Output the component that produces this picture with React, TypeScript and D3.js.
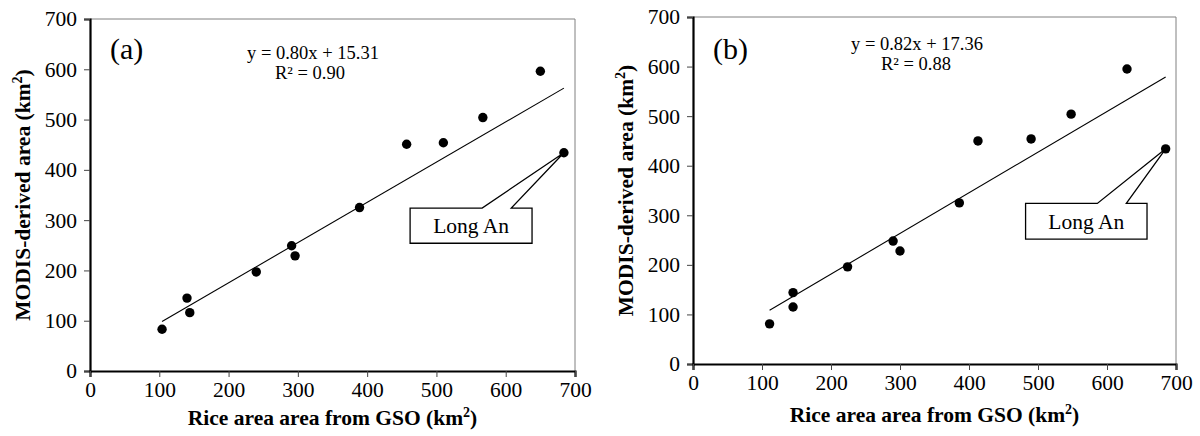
import { useEffect, useRef } from 'react'
import * as d3 from 'd3'

// (a) GSO vs MODIS, km2
const gsoA = [104, 140, 144, 240, 291, 296, 389, 457, 510, 567, 650, 684]
const modisA = [83, 145, 116, 197, 249, 229, 325, 451, 454, 504, 596, 434]
// (b)
const gsoB = [111, 145, 145, 224, 290, 300, 386, 413, 490, 548, 629, 685]
const modisB = [81, 144, 115, 196, 248, 228, 325, 450, 454, 504, 595, 434]

const axisTicks = [0, 100, 200, 300, 400, 500, 600, 700]

const fitA = { slope: 0.8, intercept: 15.31, r2: '0.90' }
const fitB = { slope: 0.82, intercept: 17.36, r2: '0.88' }

const calloutLabel = 'Long An'

interface Panel {
  tag: string
  xs: number[]
  ys: number[]
  fit: { slope: number; intercept: number; r2: string }
  box: { left: number; right: number; top: number; bottom: number }
  // callout box in data units
  callout: { x0: number; x1: number; y0: number; y1: number }
  eq: { x: number; rx: number; y: number }
  tagY: number
  yTitleX: number
  xTitleGap: number
}

const panels: Panel[] = [
  {
    tag: '(a)', xs: gsoA, ys: modisA, fit: fitA,
    box: { left: 90, right: 575, top: 19, bottom: 371 },
    callout: { x0: 462, x1: 638, y0: 254, y1: 324 },
    eq: { x: 313, rx: 310, y: 59 }, tagY: 59, yTitleX: 22, xTitleGap: 54,
  },
  {
    tag: '(b)', xs: gsoB, ys: modisB, fit: fitB,
    box: { left: 693, right: 1176, top: 17, bottom: 364 },
    callout: { x0: 482, x1: 658, y0: 252, y1: 324 },
    eq: { x: 917, rx: 916, y: 50 }, tagY: 59, yTitleX: 625, xTitleGap: 58,
  },
]

const FONT = '"Liberation Serif", "Times New Roman", serif'
const FS = 21.5

export default function App() {
  const svgRef = useRef<SVGSVGElement>(null)

  useEffect(() => {
    if (!svgRef.current) return
    const svg = d3.select(svgRef.current)
    svg.selectAll('*').remove()

    panels.forEach(p => {
      const { left, right, top, bottom } = p.box
      const x = d3.scaleLinear().domain([0, 700]).range([left, right])
      const y = d3.scaleLinear().domain([0, 700]).range([bottom, top])
      const g = svg.append('g').attr('font-family', FONT)

      // plot area frame (thin grey top/right)
      g.append('path')
        .attr('d', `M${left},${top}H${right}V${bottom}`)
        .attr('fill', 'none').attr('stroke', '#808080').attr('stroke-width', 1)

      // y axis
      const ya = g.append('g').attr('transform', `translate(${left},0)`)
        .call(d3.axisLeft(y).tickValues(axisTicks).tickSize(6).tickPadding(7).tickFormat(d3.format('d')))
      ya.select('.domain').attr('stroke', '#000').attr('stroke-width', 2.2)
      ya.selectAll('line').attr('stroke', '#444').attr('stroke-width', 1)
      ya.selectAll('text').attr('font-size', `${FS}px`).attr('fill', '#000').attr('font-family', FONT)

      // x axis
      const xa = g.append('g').attr('transform', `translate(0,${bottom})`)
        .call(d3.axisBottom(x).tickValues(axisTicks).tickSize(6).tickPadding(5).tickFormat(d3.format('d')))
      xa.select('.domain').attr('stroke', '#000').attr('stroke-width', 2.2)
      xa.selectAll('line').attr('stroke', '#444').attr('stroke-width', 1)
      xa.selectAll('text').attr('font-size', `${FS}px`).attr('fill', '#000').attr('font-family', FONT)

      // titles
      const xt = g.append('text')
        .attr('x', (left + right) / 2).attr('y', bottom + p.xTitleGap)
        .attr('text-anchor', 'middle').attr('font-size', `${FS}px`).attr('font-weight', 'bold')
      xt.append('tspan').text('Rice area area from GSO (km')
      xt.append('tspan').attr('dy', -8).attr('font-size', '14px').text('2')
      xt.append('tspan').attr('dy', 8).text(')')

      const yt = g.append('text')
        .attr('transform', `translate(${p.yTitleX},${(top + bottom) / 2}) rotate(-90)`)
        .attr('dy', '0.35em')
        .attr('text-anchor', 'middle').attr('font-size', `${FS}px`).attr('font-weight', 'bold')
      yt.append('tspan').text('MODIS-derived area (km')
      yt.append('tspan').attr('dy', -8).attr('font-size', '14px').text('2')
      yt.append('tspan').attr('dy', 8).text(')')

      // panel tag
      g.append('text').attr('x', left + 20).attr('y', p.tagY)
        .attr('font-size', '30px').text(p.tag)

      // regression equation
      g.append('text').attr('x', p.eq.x).attr('y', p.eq.y)
        .attr('text-anchor', 'middle').attr('font-size', '18.5px')
        .text(`y = ${p.fit.slope.toFixed(2)}x + ${p.fit.intercept.toFixed(2)}`)
      g.append('text').attr('x', p.eq.rx).attr('y', p.eq.y + 20)
        .attr('text-anchor', 'middle').attr('font-size', '18.5px')
        .text(`R² = ${p.fit.r2}`)

      // trend line
      const [xMin, xMax] = d3.extent(p.xs) as [number, number]
      const fy = (v: number) => p.fit.slope * v + p.fit.intercept
      g.append('line')
        .attr('x1', x(xMin)).attr('y1', y(fy(xMin)))
        .attr('x2', x(xMax)).attr('y2', y(fy(xMax)))
        .attr('stroke', '#000').attr('stroke-width', 1.1)

      // points
      g.append('g').selectAll('circle')
        .data(p.xs.map((v, i) => [v, p.ys[i]]))
        .join('circle')
        .attr('cx', d => x(d[0])).attr('cy', d => y(d[1]))
        .attr('r', 4.7).attr('fill', '#000')

      // callout to the last (Long An) point
      const c = p.callout
      const px = x(p.xs[p.xs.length - 1])
      const py = y(p.ys[p.ys.length - 1])
      const bx0 = x(c.x0), bx1 = x(c.x1), by0 = y(c.y1), by1 = y(c.y0)
      const w1 = x(c.x0 + 104), w2 = x(c.x0 + 146)
      g.append('path')
        .attr('d', `M${bx0},${by0}H${w1}L${px},${py}L${w2},${by0}H${bx1}V${by1}H${bx0}Z`)
        .attr('fill', '#fff').attr('stroke', '#000').attr('stroke-width', 1.3)
      g.append('text').attr('x', (bx0 + bx1) / 2).attr('y', (by0 + by1) / 2)
        .attr('dy', '0.35em').attr('text-anchor', 'middle').attr('font-size', `${FS}px`)
        .text(calloutLabel)
    })
  }, [])

  return (
    <div style={{ position: 'absolute', left: 0, top: 0, background: '#fff' }}>
      <svg ref={svgRef} width={1200} height={436} />
    </div>
  )
}
